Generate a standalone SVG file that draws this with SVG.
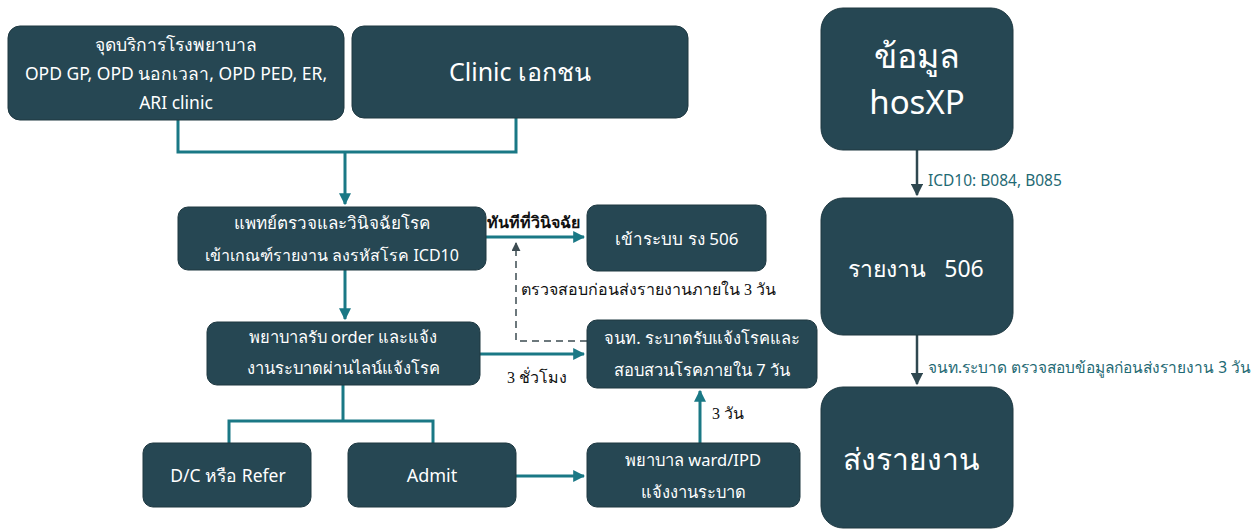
<svg xmlns="http://www.w3.org/2000/svg" width="1256" height="532" viewBox="0 0 1256 532">
<defs>
<style>
.box{fill:#264753;stroke:#1e3841;stroke-width:1}
.t{font-family:"Noto Sans","Liberation Sans",sans-serif;fill:#ffffff;text-anchor:middle}
.c{fill:none;stroke:#1a7885;stroke-width:3}
.d{fill:none;stroke:#3d4c52;stroke-width:1.5;stroke-dasharray:7,5}
.g{fill:none;stroke:#2f4850;stroke-width:2.5}
.lb{font-family:"Liberation Serif",serif;fill:#111;font-size:16px}
.lt{font-family:"Noto Sans","Liberation Sans",sans-serif;fill:#1f6a74;font-size:15.5px}
</style>
<marker id="a" viewBox="0 0 10 10" refX="9" refY="5" markerWidth="4" markerHeight="4" orient="auto"><path d="M0,0L10,5L0,10z" fill="#1a7885"/></marker>
<marker id="ad" viewBox="0 0 10 10" refX="9" refY="5" markerWidth="6" markerHeight="6" orient="auto"><path d="M0,0L10,5L0,10z" fill="#3d4c52"/></marker>
<marker id="ag" viewBox="0 0 10 10" refX="9" refY="5" markerWidth="5" markerHeight="5" orient="auto"><path d="M0,0L10,5L0,10z" fill="#2f4850"/></marker>
</defs>
<rect width="1256" height="532" fill="#ffffff"/>
<g id="connectors">
<path class="c" d="M178,120V152H516V118"/>
<path class="c" d="M345,152V204" marker-end="url(#a)"/>
<path class="c" d="M486,237H584" marker-end="url(#a)"/>
<path class="d" d="M587,341H516V243" marker-end="url(#ad)"/>
<path class="c" d="M345,270V319" marker-end="url(#a)"/>
<path class="c" d="M480,354H584" marker-end="url(#a)"/>
<path class="c" d="M343,385V421H229V443M343,421H433V443"/>
<path class="c" d="M516,476H584" marker-end="url(#a)"/>
<path class="c" d="M700,443V391" marker-end="url(#a)"/>
<path class="g" d="M917,150V195" marker-end="url(#ag)"/>
<path class="g" d="M917,335V384" marker-end="url(#ag)"/>
<text class="lb" x="487" y="228" font-weight="bold">ทันทีที่วินิจฉัย</text>
<text class="lb" x="521" y="295" font-size="16.5">ตรวจสอบก่อนส่งรายงานภายใน 3 วัน</text>
<text class="lb" x="507" y="383">3 ชั่วโมง</text>
<text class="lb" x="712" y="419">3 วัน</text>
<text class="lt" x="928" y="186">ICD10: B084, B085</text>
<text class="lt" x="928" y="373" font-size="15">จนท.ระบาด ตรวจสอบข้อมูลก่อนส่งรายงาน 3 วัน</text>
</g>
<g id="n1"><rect class="box" x="8" y="26" width="336" height="94" rx="12"/>
<text class="t" font-size="17.5" x="176" y="51">จุดบริการโรงพยาบาล</text>
<text class="t" font-size="17.5" x="176" y="80">OPD GP, OPD นอกเวลา, OPD PED, ER,</text>
<text class="t" font-size="17.5" x="176" y="109">ARI clinic</text></g>
<g id="n2"><rect class="box" x="352" y="26" width="336" height="92" rx="12"/>
<text class="t" font-size="25" x="520" y="81">Clinic เอกชน</text></g>
<g id="n3"><rect class="box" x="178" y="207" width="308" height="63" rx="10"/>
<text class="t" font-size="17" x="332" y="229">แพทย์ตรวจและวินิจฉัยโรค</text>
<text class="t" font-size="16" x="332" y="261">เข้าเกณฑ์รายงาน ลงรหัสโรค ICD10</text></g>
<g id="n4"><rect class="box" x="587" y="205" width="179" height="66" rx="10"/>
<text class="t" font-size="17" x="677" y="245">เข้าระบบ รง 506</text></g>
<g id="n5"><rect class="box" x="207" y="322" width="273" height="63" rx="10"/>
<text class="t" font-size="16.5" x="343" y="343">พยาบาลรับ order และแจ้ง</text>
<text class="t" font-size="16.5" x="343" y="374">งานระบาดผ่านไลน์แจ้งโรค</text></g>
<g id="n6"><rect class="box" x="587" y="320" width="230" height="68" rx="10"/>
<text class="t" font-size="16.5" x="702" y="344">จนท. ระบาดรับแจ้งโรคและ</text>
<text class="t" font-size="16.5" x="702" y="376">สอบสวนโรคภายใน 7 วัน</text></g>
<g id="n7"><rect class="box" x="143" y="443" width="168" height="64" rx="10"/>
<text class="t" font-size="17.5" x="228" y="482">D/C หรือ Refer</text></g>
<g id="n8"><rect class="box" x="348" y="443" width="168" height="64" rx="10"/>
<text class="t" font-size="18" x="432" y="482">Admit</text></g>
<g id="n9"><rect class="box" x="587" y="443" width="213" height="64" rx="10"/>
<text class="t" font-size="16.5" x="693" y="466">พยาบาล ward/IPD</text>
<text class="t" font-size="16.5" x="693" y="498">แจ้งงานระบาด</text></g>
<g id="n10"><rect class="box" x="821" y="8" width="192" height="142" rx="22"/>
<text class="t" font-size="34" x="917" y="68">ข้อมูล</text>
<text class="t" font-size="33" x="917" y="114">hosXP</text></g>
<g id="n11"><rect class="box" x="821" y="198" width="192" height="137" rx="22"/>
<text class="t" font-size="23" x="916" y="277" xml:space="preserve">รายงาน   506</text></g>
<g id="n12"><rect class="box" x="821" y="387" width="192" height="141" rx="22"/>
<text class="t" font-size="30" x="911" y="470">ส่งรายงาน</text></g>
</svg>
